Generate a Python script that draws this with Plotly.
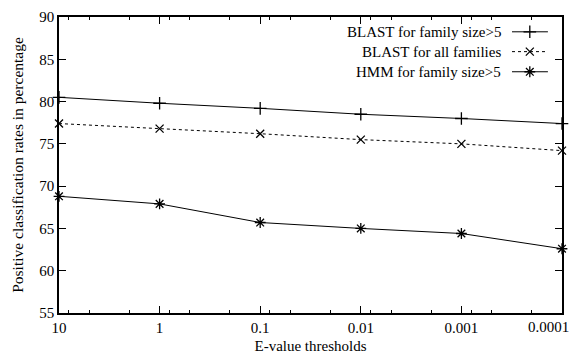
import math
import plotly.graph_objects as go

# Data
evalues = [10, 1, 0.1, 0.01, 0.001, 0.0001]
tick_labels = ["10", "1", "0.1", "0.01", "0.001", "0.0001"]
blast_gt5 = [80.5, 79.8, 79.2, 78.5, 78.0, 77.4]
blast_all = [77.4, 76.8, 76.2, 75.5, 75.0, 74.2]
hmm_gt5 = [68.8, 67.9, 65.7, 65.0, 64.4, 62.6]
series_names = ["BLAST for family size>5", "BLAST for all families", "HMM for family size>5"]

minor_vals = [m * 10.0 ** k for k in range(-4, 1) for m in (8, 5, 2)]

FONT = "Liberation Serif"
styles = [
    dict(dash="solid", symbol="cross-thin-open", size=9),
    dict(dash="dot", symbol="x-thin-open", size=8),
    dict(dash="solid", symbol="asterisk-open", size=9),
]
values = [blast_gt5, blast_all, hmm_gt5]

# the last label sits at the right edge of the window: draw it right-aligned instead
tick_text = tick_labels[:-1] + [""]

fig = go.Figure()
for name, vals, st in zip(series_names, values, styles):
    fig.add_trace(go.Scatter(
        x=evalues, y=vals, name=name, mode="lines+markers",
        line=dict(color="black", width=1, dash=st["dash"]),
        marker=dict(symbol=st["symbol"], size=st["size"], color="black",
                    line=dict(color="black", width=1.3)),
        showlegend=False, cliponaxis=False,
    ))

fig.add_annotation(
    x=math.log10(evalues[-1]), xref="x", y=0, yref="paper",
    text=tick_labels[-1], showarrow=False,
    xanchor="right", yanchor="middle", xshift=9, yshift=-14,
    font=dict(family=FONT, size=15, color="black"),
)

# Custom gnuplot-style legend (text left, sample right) on an overlay axis
legend_rows = [0.950, 0.883, 0.815]
for name, st, yy in zip(series_names, styles, legend_rows):
    fig.add_trace(go.Scatter(
        x=[0.9006, 0.972], y=[yy, yy], xaxis="x2", yaxis="y2", mode="lines",
        line=dict(color="black", width=1, dash=st["dash"]), showlegend=False,
        hoverinfo="skip",
    ))
    fig.add_trace(go.Scatter(
        x=[0.936], y=[yy], xaxis="x2", yaxis="y2", mode="markers",
        marker=dict(symbol=st["symbol"], size=st["size"], color="black",
                    line=dict(color="black", width=1.3)),
        showlegend=False, hoverinfo="skip",
    ))
    fig.add_annotation(
        x=0.883, y=yy, xref="x2", yref="y2", text=name, showarrow=False,
        xanchor="right", yanchor="middle",
        font=dict(family=FONT, size=15, color="black"),
    )

# page body has an 8px margin: shrink the figure so it fits the 581x356 window
fig.update_layout(
    width=573, height=348,
    margin=dict(l=51, r=19, t=9, b=43),
    paper_bgcolor="white", plot_bgcolor="white",
    font=dict(family=FONT, size=15, color="black"),
    showlegend=False,
    xaxis=dict(
        type="log", range=[1.00001, -4.00001], automargin=False,
        tickmode="array", tickvals=evalues, ticktext=tick_text,
        ticklabeloverflow="allow",
        ticks="inside", ticklen=7, tickwidth=1, tickcolor="black",
        minor=dict(tickmode="array", tickvals=minor_vals, ticks="inside",
                   ticklen=3.5, tickwidth=1, tickcolor="black", showgrid=False),
        showline=True, linecolor="black", linewidth=1.5, mirror="ticks",
        showgrid=False, zeroline=False,
        title=dict(text="E-value thresholds", standoff=6,
                   font=dict(family=FONT, size=15)),
        tickfont=dict(family=FONT, size=15),
    ),
    yaxis=dict(
        range=[55, 90], dtick=5, tick0=55, automargin=False,
        ticks="inside", ticklen=7, tickwidth=1, tickcolor="black",
        showline=True, linecolor="black", linewidth=1.5, mirror="ticks",
        showgrid=False, zeroline=False,
        title=dict(text="Positive classification rates in percentage", standoff=12,
                   font=dict(family=FONT, size=15.5)),
        tickfont=dict(family=FONT, size=15),
    ),
    xaxis2=dict(overlaying="x", range=[0, 1], visible=False, fixedrange=True),
    yaxis2=dict(overlaying="y", range=[0, 1], visible=False, fixedrange=True),
)

fig.write_html("out.html")
